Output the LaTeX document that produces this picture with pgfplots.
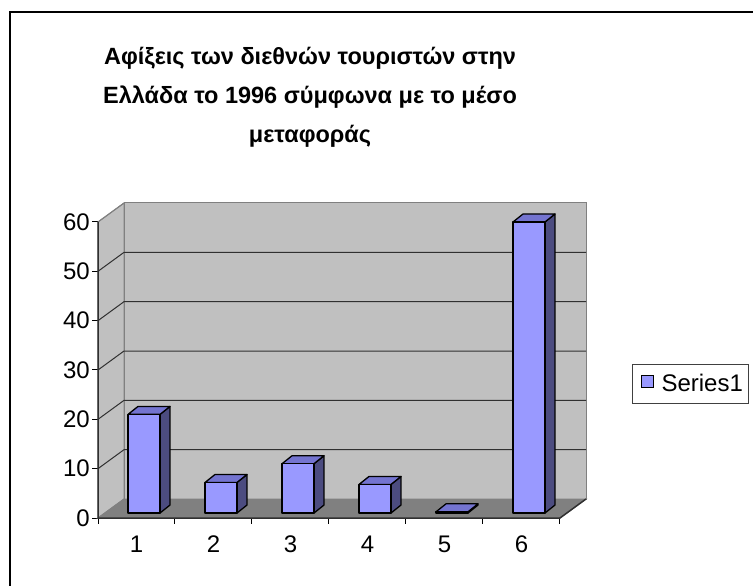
\documentclass[border=0pt]{standalone}
\usepackage{pgfplots}
\pgfplotsset{compat=1.18}
\usepackage{fontspec}
\setmainfont{Liberation Sans}
\definecolor{barfront}{HTML}{9999FF}
\definecolor{bartop}{HTML}{7474D0}
\definecolor{barside}{HTML}{4C4C80}
\definecolor{wallc}{HTML}{C0C0C0}
\definecolor{floorc}{HTML}{808080}
\definecolor{gridc}{HTML}{303030}

% one 3-D bar: #1 = category, #2 = value
\newcommand\drawbar[2]{%
  \pgfmathsetmacro\xa{#1-0.11}%
  \pgfmathsetmacro\xb{#1+0.305}%
  \pgfmathsetmacro\xc{#1+0.435}%
  \pgfmathsetmacro\xd{#1+0.02}%
  \pgfmathsetmacro\ya{1+#2}%
  \pgfmathsetmacro\yb{2.62+#2}%
  \edef\tmp{%
    \noexpand\addplot[fill=barside,draw=black,line width=1.3bp,line join=round,forget plot]
      coordinates {(\xb,1) (\xc,2.62) (\xc,\yb) (\xb,\ya)} -- cycle;
    \noexpand\addplot[fill=bartop,draw=black,line width=1.3bp,line join=round,forget plot]
      coordinates {(\xa,\ya) (\xb,\ya) (\xc,\yb) (\xd,\yb)} -- cycle;
    \noexpand\addplot[fill=barfront,draw=black,line width=1.3bp,line join=round,forget plot]
      coordinates {(\xa,1) (\xb,1) (\xb,\ya) (\xa,\ya)} -- cycle;
  }\tmp}

\newcommand\gridl[1]{%
  \pgfmathsetmacro\yg{#1+3.85}%
  \edef\tmp{\noexpand\addplot[draw=gridc,line width=1bp,forget plot]
    coordinates {(0.5,#1) (0.838,\yg) (6.838,\yg)};}\tmp}

\begin{document}
\begin{tikzpicture}
\useasboundingbox (0,0) rectangle (753bp,586bp);
\draw[line width=1.6bp] (10bp,-20bp) -- (10bp,574bp) -- (775bp,574bp);
\node[font=\bfseries\fontsize{23.5bp}{39bp}\selectfont, align=center] at (310bp,489bp)
  {Αφίξεις των διεθνών τουριστών στην\\Ελλάδα το 1996 σύμφωνα με το μέσο\\μεταφοράς};
\begin{axis}[
  at={(98bp,68bp)}, anchor=south west,
  scale only axis, width=488bp, height=315bp,
  xmin=0.5, xmax=6.838, ymin=0, ymax=63.85,
  clip=false,
  axis line style={draw=none},
  tick pos=left, tick align=outside,
  ytick={0,10,...,60},
  xtick={1,...,6},
  minor xtick={0.5,1.5,...,6.5},
  major tick length=6bp, minor tick length=6bp,
  major x tick style={draw=none},
  tick style={black, line width=1bp},
  /pgf/number format/assume math mode=true,
  ticklabel style={font=\fontsize{24bp}{27bp}\selectfont},
  yticklabel style={inner sep=2bp},
  xticklabel style={inner sep=2bp, yshift=-10bp},
  legend style={at={(1.0943,0.4889)}, anchor=north west, draw=black!75,
    line width=1bp, font=\fontsize{24bp}{27bp}\selectfont,
    inner xsep=4bp, inner ysep=8bp},
]
% walls and floor
\addplot[fill=wallc,draw=floorc,line width=1bp,forget plot]
  coordinates {(0.5,0) (0.838,3.85) (0.838,63.85) (0.5,60)} -- cycle;
\addplot[fill=wallc,draw=floorc,line width=1bp,forget plot]
  coordinates {(0.838,3.85) (6.838,3.85) (6.838,63.85) (0.838,63.85)} -- cycle;
\addplot[fill=floorc,draw=floorc,line width=1bp,forget plot]
  coordinates {(0.5,0) (6.5,0) (6.838,3.85) (0.838,3.85)} -- cycle;
\gridl{10}\gridl{20}\gridl{30}\gridl{40}\gridl{50}
\addplot[draw=floorc,line width=1bp,forget plot] coordinates {(0.5,60) (0.838,63.85)};
% front axis lines
\addplot[draw=gridc,line width=1.5bp,forget plot] coordinates {(0.5,60) (0.5,0) (6.5,0) (6.838,3.85)};
% bars
\drawbar{1}{20}
\drawbar{2}{6.2}
\drawbar{3}{10}
\drawbar{4}{5.8}
\drawbar{5}{0.25}
\drawbar{6}{59}
\addlegendimage{legend image code/.code={\path[draw=none,fill=none] (0bp,-4bp) rectangle (23bp,8bp);\draw[fill=barfront,draw=black,line width=1bp] (5bp,-4bp) rectangle (17bp,8bp);}}
\addlegendentry{Series1}
\end{axis}
\end{tikzpicture}
\end{document}
